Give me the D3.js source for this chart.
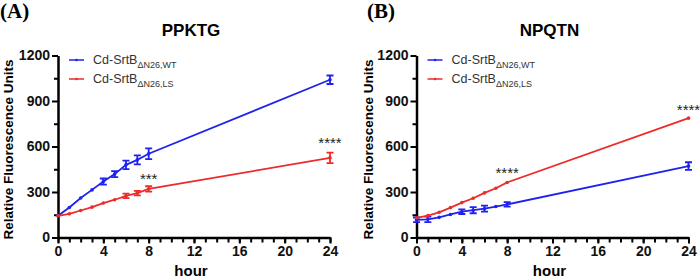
<!DOCTYPE html>
<html>
<head>
<meta charset="utf-8">
<script src="https://cdn.jsdelivr.net/npm/d3@7"></script>
<style>
  body { margin: 0; background: #fff; }
  svg { display: block; }
  .tick text { font-family: Arial, "Liberation Sans", sans-serif; font-weight: bold; font-size: 14px; fill: #111; }
</style>
</head>
<body>
<div id="chart"></div>
<script>
// hours sampled
const hours = [0, 1, 2, 3, 4, 5, 6, 7, 8, 24];

// panel A - PPKTG
const a_wt     = [143, 198, 260, 314, 369, 418, 479, 512, 552, 1040];
const a_wt_err = [5, 5, 5, 5, 20, 20, 28, 30, 35, 28];
const a_ls     = [143, 156, 178, 200, 227, 249, 274, 293, 320, 525];
const a_ls_err = [5, 5, 5, 5, 5, 5, 15, 15, 18, 35];

// panel B - NPQTN
const b_wt     = [117, 120, 133, 152, 170, 180, 190, 204, 218, 471];
const b_wt_err = [15, 18, 5, 5, 15, 20, 20, 5, 15, 25];
const b_ls     = [130, 144, 166, 197, 230, 259, 294, 325, 363, 787];
const b_ls_err = [5, 5, 5, 5, 5, 5, 5, 5, 5, 5];

const y_ticks = [0, 300, 600, 900, 1200];
const x_ticks = [0, 4, 8, 12, 16, 20, 24];

const panels = [
  {letter: "(A)", title: "PPKTG", left: 58, wt: a_wt, wt_err: a_wt_err, ls: a_ls, ls_err: a_ls_err,
   stars: [{h: 8, v: 355, s: "***"}, {h: 24, v: 590, s: "****"}]},
  {letter: "(B)", title: "NPQTN", left: 416.5, wt: b_wt, wt_err: b_wt_err, ls: b_ls, ls_err: b_ls_err,
   stars: [{h: 8, v: 395, s: "****"}, {h: 24, v: 810, s: "****"}]}
];

const blue = "#1f22ee", red = "#ee2a2a";
const font = 'Arial, "Liberation Sans", sans-serif';

const svg = d3.select("#chart").append("svg")
  .attr("width", 700).attr("height", 280);

panels.forEach((p, i) => {
  const x = d3.scaleLinear().domain([0, 24]).range([p.left, p.left + 272]);
  const y = d3.scaleLinear().domain([0, 1200]).range([237.5, 55.5]);
  const g = svg.append("g");
  const ox = i * 350;

  g.append("text").attr("x", ox + (i ? 17 : 0)).attr("y", 18)
    .attr("font-family", '"Liberation Serif", "Times New Roman", serif')
    .attr("font-weight", "bold").attr("font-size", 21).text(p.letter);

  g.append("text").attr("x", x(12) - 3).attr("y", 36).attr("text-anchor", "middle")
    .attr("font-family", font).attr("font-weight", "bold").attr("font-size", 17).text(p.title);

  // minor ticks
  g.append("g").attr("transform", `translate(0,${y(0)})`)
    .call(d3.axisBottom(x).tickValues(d3.range(0, 25)).tickSize(5).tickFormat(""))
    .call(s => s.select(".domain").remove())
    .selectAll("line").attr("stroke", "#000").attr("stroke-width", 2);
  g.append("g").attr("transform", `translate(${x(0)},0)`)
    .call(d3.axisLeft(y).tickValues(d3.range(150, 1200, 300)).tickSize(4).tickFormat(""))
    .call(s => s.select(".domain").remove())
    .selectAll("line").attr("stroke", "#000").attr("stroke-width", 2);

  const xa = g.append("g").attr("transform", `translate(0,${y(0)})`)
    .call(d3.axisBottom(x).tickValues(x_ticks).tickSize(6).tickPadding(3).tickSizeOuter(0));
  const ya = g.append("g").attr("transform", `translate(${x(0)},0)`)
    .call(d3.axisLeft(y).tickValues(y_ticks).tickFormat(d3.format("d"))
      .tickSize(6).tickPadding(2).tickSizeOuter(0));
  [xa, ya].forEach(a => {
    a.select(".domain").attr("stroke", "#000").attr("stroke-width", 2.5);
    a.selectAll(".tick line").attr("stroke", "#000").attr("stroke-width", 2);
  });

  g.append("text").attr("x", x(12) - 3).attr("y", 276).attr("text-anchor", "middle")
    .attr("font-family", font).attr("font-weight", "bold").attr("font-size", 15).text("hour");

  g.append("text").attr("transform", `translate(${ox + (i ? 23 : 13)},${y(600) + 3}) rotate(-90)`)
    .attr("text-anchor", "middle").attr("font-family", font).attr("font-weight", "bold")
    .attr("font-size", 13.5).text("Relative Fluorescence Units");

  const series = [
    {vals: p.wt, err: p.wt_err, color: blue, sub: "ΔN26,WT"},
    {vals: p.ls, err: p.ls_err, color: red, sub: "ΔN26,LS"}
  ];
  const line = d3.line().x(d => x(d[0])).y(d => y(d[1]));

  series.forEach((s, k) => {
    const pts = hours.map((h, j) => [h, s.vals[j], s.err[j]]);
    g.append("path").datum(pts).attr("d", line)
      .attr("fill", "none").attr("stroke", s.color).attr("stroke-width", 1.8);
    const eb = g.append("g").attr("stroke", s.color).attr("stroke-width", 1.8);
    eb.selectAll(".v").data(pts.filter(d => d[2] > 6)).join("path")
      .attr("fill", "none")
      .attr("d", d => `M${x(d[0])},${y(d[1] - d[2])}V${y(d[1] + d[2])}` +
        `M${x(d[0]) - 3.5},${y(d[1] - d[2])}h7M${x(d[0]) - 3.5},${y(d[1] + d[2])}h7`);
    g.selectAll(null).data(pts).join("circle")
      .attr("cx", d => x(d[0])).attr("cy", d => y(d[1])).attr("r", 1.8).attr("fill", s.color);

    // legend
    const ly = 60 + k * 19;
    const lx = x(0) + 11;
    g.append("line").attr("x1", lx).attr("x2", lx + 15).attr("y1", ly).attr("y2", ly)
      .attr("stroke", s.color).attr("stroke-width", 1.5);
    g.append("circle").attr("cx", lx + 7.5).attr("cy", ly).attr("r", 1.3).attr("fill", s.color);
    const t = g.append("text").attr("x", lx + 24).attr("y", ly + 4)
      .attr("font-family", font).attr("font-size", 12.5).attr("fill", "#333");
    t.append("tspan").text("Cd-SrtB");
    t.append("tspan").attr("font-size", 9).attr("dy", 4).text(s.sub);
  });

  g.selectAll(null).data(p.stars).join("text")
    .attr("x", d => x(d.h)).attr("y", d => y(d.v)).attr("text-anchor", "middle")
    .attr("font-family", font).attr("font-size", 15).attr("fill", "#222").text(d => d.s);
});
</script>
</body>
</html>
